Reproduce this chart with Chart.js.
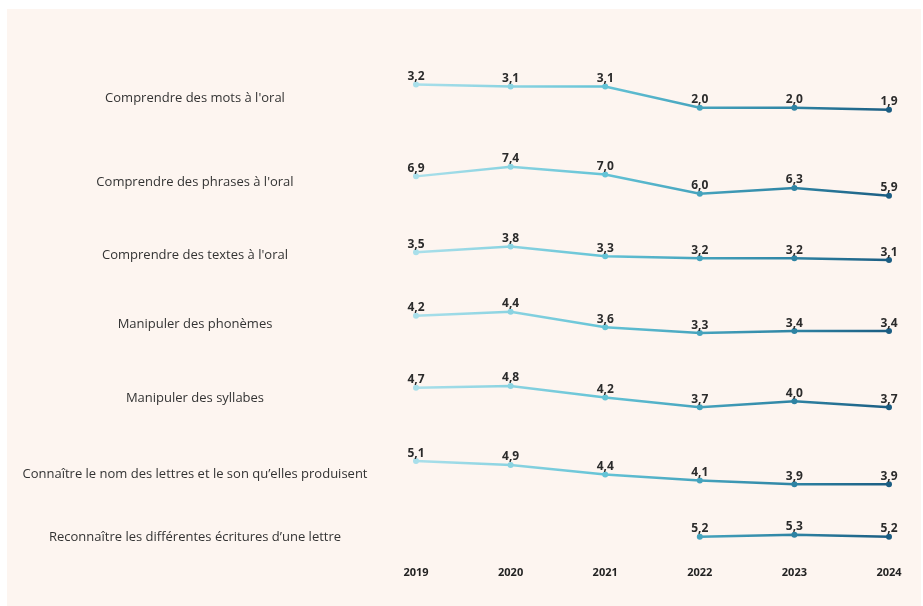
<!DOCTYPE html>
<html lang="fr">
<head>
<meta charset="utf-8">
<script src="https://cdn.jsdelivr.net/npm/chart.js@4.4.1/dist/chart.umd.min.js"></script>
<style>
  html, body { margin: 0; padding: 0; background: #fff; }
  #panel { position: absolute; left: 7px; top: 9px; width: 914px; height: 597px; background: #fdf5f0; }
  #wrap { position: absolute; left: 0; top: 0; width: 923px; height: 606px; }
</style>
</head>
<body>
<div id="panel"></div>
<div id="wrap"><canvas id="chart"></canvas></div>
<script>
// Years (x axis)
const years = ['2019', '2020', '2021', '2022', '2023', '2024'];

// One row per skill, top to bottom
const skills = [
    "Comprendre des mots à l'oral",
    "Comprendre des phrases à l'oral",
    "Comprendre des textes à l'oral",
    'Manipuler des phonèmes',
    'Manipuler des syllabes',
    'Connaître le nom des lettres et le son qu’elles produisent',
    'Reconnaître les différentes écritures d’une lettre',
];

const motsOral      = [3.2, 3.1, 3.1, 2.0, 2.0, 1.9];
const phrasesOral   = [6.9, 7.4, 7.0, 6.0, 6.3, 5.9];
const textesOral    = [3.5, 3.8, 3.3, 3.2, 3.2, 3.1];
const phonemes      = [4.2, 4.4, 3.6, 3.3, 3.4, 3.4];
const syllabes      = [4.7, 4.8, 4.2, 3.7, 4.0, 3.7];
const nomLettres    = [5.1, 4.9, 4.4, 4.1, 3.9, 3.9];
const ecritures     = [null, null, null, 5.2, 5.3, 5.2];

const series = [motsOral, phrasesOral, textesOral, phonemes, syllabes, nomLettres, ecritures];

// colour for each year, light to dark
const yearColors = ['#a9dfea', '#8ad3e1', '#64c3d6', '#45a3bd', '#2e83a3', '#1b5d82'];

// layout: row band heights (px) and vertical scale
const bandHeights = [90, 78, 66, 72, 76, 76, 50];
const PX_PER_UNIT = 19.3;
const LABEL_X = 195;

const fmt = v => v.toFixed(1).replace('.', ',');

let gradCache = null;
function lineGradient(chart) {
    const area = chart.chartArea;
    if (!area) return yearColors[0];
    const x = chart.scales.x;
    const x0 = x.getPixelForValue(0), x1 = x.getPixelForValue(years.length - 1);
    const key = x0 + ':' + x1;
    if (gradCache && gradCache.key === key) return gradCache.g;
    const g = chart.ctx.createLinearGradient(x0, 0, x1, 0);
    yearColors.forEach((c, i) => g.addColorStop(i / (yearColors.length - 1), c));
    gradCache = { key, g };
    return g;
}

const scales = {
    x: {
        type: 'category',
        labels: years,
        offset: false,
        grid: { display: false, drawTicks: false },
        border: { display: false },
        ticks: { color: '#222', padding: 5, font: { family: "'Open Sans'", size: 11, weight: 'bold' } },
    },
};

series.forEach((vals, i) => {
    const nums = vals.filter(v => v !== null);
    const mid = (Math.min(...nums) + Math.max(...nums)) / 2;
    const half = bandHeights[i] / 2 / PX_PER_UNIT;
    scales['y' + i] = {
        type: 'linear',
        position: 'left',
        stack: 'rows',
        stackWeight: bandHeights[i],
        weight: series.length - i,
        min: mid - half,
        max: mid + half,
        display: false,
    };
});

const datasets = series.map((vals, i) => ({
    label: skills[i],
    data: vals,
    yAxisID: 'y' + i,
    borderColor: ctx => lineGradient(ctx.chart),
    borderWidth: 2.5,
    pointRadius: 3,
    pointHoverRadius: 3,
    pointBorderWidth: 0,
    pointBackgroundColor: yearColors,
    spanGaps: false,
    tension: 0,
}));

// row labels on the left + value labels above points
const labelsPlugin = {
    id: 'labels',
    afterDatasetsDraw(chart) {
        const ctx = chart.ctx;
        ctx.save();
        ctx.textAlign = 'center';
        ctx.fillStyle = '#2b2b2b';
        ctx.font = "bold 12px 'Open Sans'";
        ctx.textBaseline = 'alphabetic';
        chart.data.datasets.forEach((ds, i) => {
            chart.getDatasetMeta(i).data.forEach((pt, j) => {
                const v = ds.data[j];
                if (v === null) return;
                ctx.fillText(fmt(v), pt.x, pt.y - 4.5);
            });
        });
        ctx.font = "13px 'Open Sans'";
        ctx.fillStyle = '#333';
        ctx.textBaseline = 'middle';
        skills.forEach((s, i) => {
            const sc = chart.scales['y' + i];
            ctx.fillText(s, LABEL_X, (sc.top + sc.bottom) / 2 + 1.5);
        });
        ctx.restore();
    }
};

new Chart(document.getElementById('chart'), {
    type: 'line',
    data: { labels: years, datasets },
    options: {
        responsive: true,
        maintainAspectRatio: false,
        animation: false,
        layout: { padding: { left: 416, right: 34, top: 52, bottom: 22 } },
        scales,
        plugins: { legend: { display: false }, tooltip: { enabled: false } },
    },
    plugins: [labelsPlugin],
});
</script>
</body>
</html>
